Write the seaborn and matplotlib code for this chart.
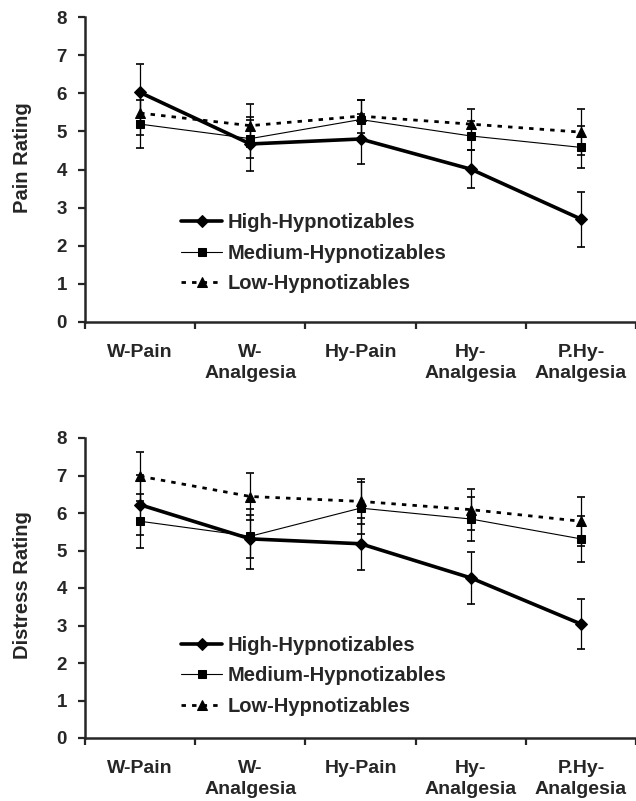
import numpy as np
import pandas as pd
import matplotlib
matplotlib.use("Agg")
import matplotlib.pyplot as plt
import seaborn as sns

conditions = ["W-Pain", "W-\nAnalgesia", "Hy-Pain", "Hy-\nAnalgesia", "P.Hy-\nAnalgesia"]
groups = ["High-Hypnotizables", "Medium-Hypnotizables", "Low-Hypnotizables"]

# pain ratings (mean, standard error)
pain_high = [6.02, 4.67, 4.80, 4.01, 2.70]
pain_high_se = [0.74, 0.70, 0.66, 0.50, 0.72]
pain_med = [5.19, 4.81, 5.31, 4.88, 4.58]
pain_med_se = [0.63, 0.50, 0.52, 0.38, 0.55]
pain_low = [5.48, 5.15, 5.40, 5.19, 4.98]
pain_low_se = [0.57, 0.56, 0.43, 0.40, 0.60]

# distress ratings (mean, standard error)
distress_high = [6.22, 5.31, 5.18, 4.27, 3.04]
distress_high_se = [0.80, 0.80, 0.69, 0.70, 0.66]
distress_med = [5.78, 5.38, 6.13, 5.84, 5.31]
distress_med_se = [0.72, 0.57, 0.70, 0.58, 0.62]
distress_low = [6.98, 6.44, 6.31, 6.09, 5.78]
distress_low_se = [0.66, 0.63, 0.60, 0.55, 0.66]

sns.set_theme(style="ticks")
plt.rcParams["font.family"] = ["Liberation Sans", "DejaVu Sans"]
plt.rcParams["font.weight"] = "bold"

# line look per group
styles = {
    "High-Hypnotizables": dict(lw=2.6, ls="-", marker="D", ms=6.5),
    "Medium-Hypnotizables": dict(lw=0.8, ls="-", marker="s", ms=6.0),
    "Low-Hypnotizables": dict(lw=2.0, ls=(0, (1.6, 2.2)), marker="^", ms=7.5),
}


def panel(ax, means, ses, ylabel, ylab_y, legend_y):
    x = np.arange(len(conditions))
    for g, m, s in zip(groups, means, ses):
        st = styles[g]
        ax.errorbar(x, m, yerr=s, fmt="none", ecolor="black", elinewidth=0.9,
                    capsize=2.8, capthick=1.2, zorder=2)
        df = pd.DataFrame({"x": x, "y": m})
        sns.lineplot(data=df, x="x", y="y", ax=ax, color="black", errorbar=None,
                     linewidth=st["lw"], linestyle=st["ls"], marker=st["marker"],
                     markersize=st["ms"], markeredgecolor="black",
                     markerfacecolor="black", label=g, zorder=3)
    ax.set_xlim(-0.5, 4.5)
    ax.set_ylim(0, 8)
    ax.set_yticks(range(0, 9))
    ax.set_xticks(x)
    ax.set_xticklabels(conditions)
    ax.set_xticks(np.arange(-0.5, 5.0, 1.0), minor=True)
    ax.tick_params(axis="x", which="major", length=0, pad=16, labelsize=14)
    ax.tick_params(axis="x", which="minor", length=5, width=1.6, direction="out")
    ax.tick_params(axis="y", length=5, width=1.6, direction="out", labelsize=13.5, pad=8)
    for t in ax.get_xticklabels():
        t.set_linespacing(1.3)
        t.set_fontweight("bold")
        t.set_verticalalignment("top")
    for t in ax.get_yticklabels():
        t.set_fontweight("bold")
    sns.despine(ax=ax)
    ax.spines["left"].set_linewidth(1.8)
    ax.spines["bottom"].set_linewidth(1.8)
    ax.set_xlabel("")
    ax.set_ylabel(ylabel, fontsize=14.5, fontweight="bold")
    ax.yaxis.set_label_coords(-0.097, ylab_y)
    leg = ax.legend(loc="center left", bbox_to_anchor=(0.175, legend_y),
                    frameon=False, fontsize=14.5, handlelength=2.0,
                    handletextpad=0.3, labelspacing=0.58, borderpad=0,
                    borderaxespad=0)
    for t in leg.get_texts():
        t.set_fontweight("bold")


fig = plt.figure(figsize=(6.36, 8.01), dpi=100)
ax1 = fig.add_axes([85 / 636, 1 - 322 / 801, 551 / 636, 305 / 801])
ax2 = fig.add_axes([85 / 636, 1 - 738 / 801, 551 / 636, 300 / 801])

panel(ax1, [pain_high, pain_med, pain_low],
      [pain_high_se, pain_med_se, pain_low_se], "Pain Rating", 0.54, 0.226)
panel(ax2, [distress_high, distress_med, distress_low],
      [distress_high_se, distress_med_se, distress_low_se], "Distress Rating", 0.51, 0.207)

fig.savefig("out.png", dpi=100)
plt.close(fig)
